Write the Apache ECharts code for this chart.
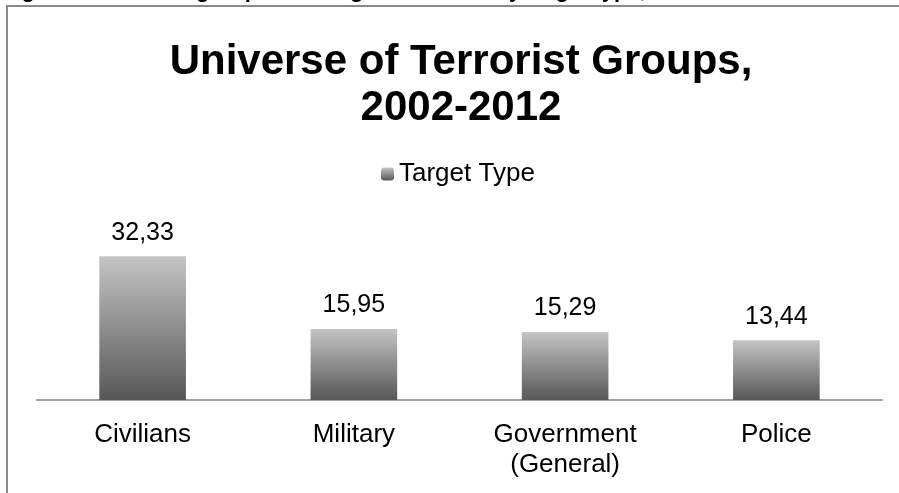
<!DOCTYPE html>
<html>
<head>
<meta charset="utf-8">
<script src="https://cdn.jsdelivr.net/npm/echarts@6/dist/echarts.min.js"></script>
<style>
  html, body { margin: 0; padding: 0; background: #fff; }
  #chart { width: 899px; height: 493px; }
</style>
</head>
<body>
<div id="chart"></div>
<script>
const categories = ['Civilians', 'Military', 'Government\n(General)', 'Police'];
const targetValues = [32.33, 15.95, 15.29, 13.44];
const seriesName = 'Target Type';

const chart = echarts.init(document.getElementById('chart'));
const font = '"Liberation Sans", Arial, sans-serif';

const barGradient = new echarts.graphic.LinearGradient(0, 0, 0, 1, [
  { offset: 0, color: '#c4c4c4' },
  { offset: 1, color: '#575757' }
]);

chart.setOption({
  backgroundColor: '#fff',
  textStyle: { fontFamily: font },
  title: {
    text: 'Universe of Terrorist Groups,\n2002-2012',
    left: 456,
    textAlign: 'center',
    top: 34,
    textStyle: { fontSize: 42, fontWeight: 'bold', color: '#000', lineHeight: 46, fontFamily: font }
  },
  graphic: [
    {
      type: 'rect',
      shape: { x: 7, y: 6, width: 1000, height: 600 },
      style: { fill: 'none', stroke: '#8a8a8a', lineWidth: 2 },
      silent: true
    },
    {
      // caption of the source page, cut off at the top edge
      type: 'text',
      left: 2,
      top: -20,
      style: {
        text: 'Figure 4: Terrorist groups and targets selected by target type, 2002-2012',
        font: 'bold 22px "Liberation Sans", Arial, sans-serif',
        fill: '#000'
      },
      silent: true
    }
  ],
  legend: {
    data: [seriesName],
    top: 156,
    left: 376,
    itemWidth: 13,
    itemHeight: 13,
    itemGap: 8,
    textStyle: { fontSize: 26, color: '#000', fontFamily: font }
  },
  grid: { left: 37, right: 17, top: 222, bottom: 93 },
  xAxis: {
    type: 'category',
    data: categories,
    axisLine: { lineStyle: { color: '#a0a0a0', width: 2 } },
    axisTick: { show: false },
    axisLabel: { fontSize: 26, color: '#000', margin: 20, lineHeight: 30, fontFamily: font }
  },
  yAxis: {
    type: 'value',
    min: 0,
    max: 40,
    show: false,
    splitLine: { show: false }
  },
  series: [{
    name: seriesName,
    type: 'bar',
    data: targetValues,
    barWidth: '41%',
    itemStyle: { color: barGradient },
    label: {
      show: true,
      position: 'top',
      distance: 11,
      fontSize: 25,
      color: '#000',
      fontFamily: font,
      formatter: p => p.value.toFixed(2).replace('.', ',')
    }
  }]
});
</script>
</body>
</html>
